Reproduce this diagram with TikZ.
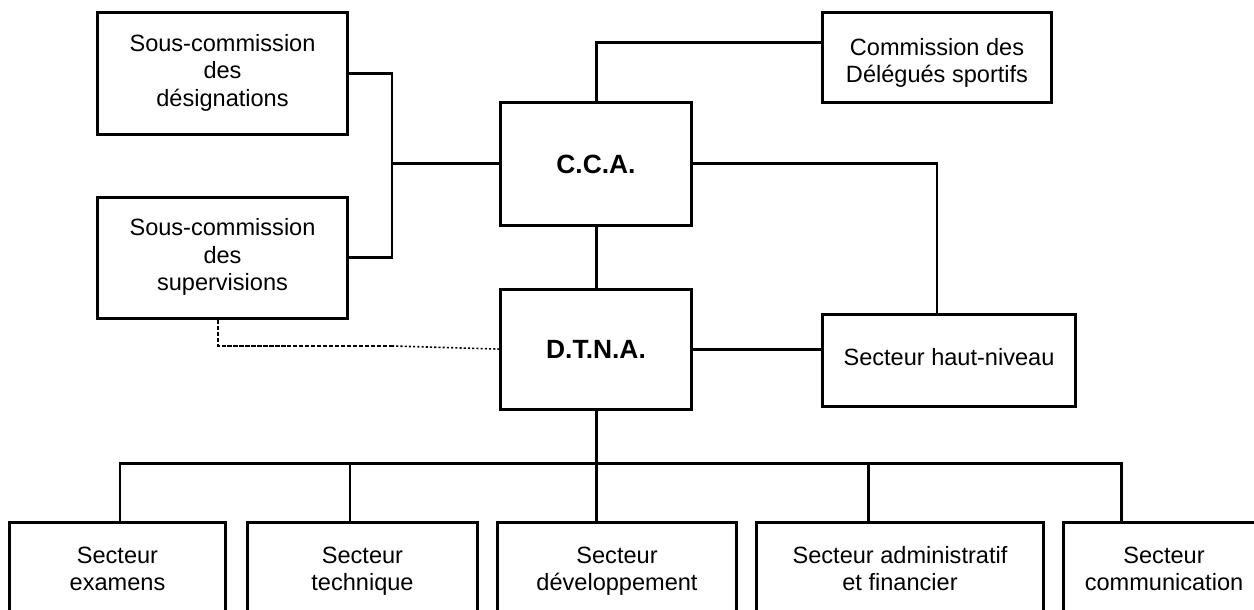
\documentclass[tikz,border=0pt]{standalone}
\usepackage{fontspec}
\setmainfont{Liberation Sans}
\usetikzlibrary{positioning}
\tikzset{
    unit/.style={
           rectangle,
           draw=black, line width=0.85pt,
           inner sep=0pt,
           align=center,
           font=\fontsize{6.7}{7.8}\selectfont},
    head/.style={
           unit,
           font=\fontsize{7.5}{8.5}\selectfont\bfseries},
    link/.style={draw=black, line width=0.85pt},
    dashlink/.style={draw=black, line width=0.45pt, dash pattern=on 1.2pt off 0.5pt},
    dotlink/.style={draw=black, line width=0.45pt, dash pattern=on 0.6pt off 0.6pt},
}

\begin{document}
\begin{tikzpicture}[x=0.01cm,y=-0.01cm]
 \clip (0,0) rectangle (1254,610);

 % commissions
 \node[unit, minimum width=2.49cm, minimum height=1.21cm] (DESIGNATIONS) at (222.5,73.5)
 {\strut Sous-commission\\des\\désignations\strut};

 \node[unit, minimum width=2.49cm, minimum height=1.21cm,
 below=0.60cm of DESIGNATIONS] (SUPERVISIONS)
 {\strut Sous-commission\\des\\supervisions\strut};

 \node[head, minimum width=1.90cm, minimum height=1.22cm] (CCA) at (596,164)
 {C.C.A.};

 \node[unit, minimum width=2.28cm, minimum height=0.89cm, text height=15.6pt] (DELEGUES) at (937,57.5)
 {Commission des\\Délégués sportifs};

 \node[head, minimum width=1.90cm, minimum height=1.20cm,
 below=0.61cm of CCA] (DTNA)
 {D.T.N.A.};

 \node[unit, minimum width=2.52cm, minimum height=0.91cm] (HAUTNIVEAU) at (949,360.5)
 {\strut Secteur haut-niveau};

 % secteurs
 \node[unit, minimum width=2.15cm, minimum height=0.97cm] (EXAMENS) at (117.5,571.5)
 {\strut Secteur\\examens\strut};
 \node[unit, minimum width=2.29cm, minimum height=0.97cm] (TECHNIQUE) at (362.5,571.5)
 {\strut Secteur\\technique\strut};
 \node[unit, minimum width=2.38cm, minimum height=0.97cm] (DEVELOPPEMENT) at (617,571.5)
 {\strut Secteur\\développement\strut};
 \node[unit, minimum width=2.86cm, minimum height=0.97cm] (ADMINISTRATIF) at (900,571.5)
 {\strut Secteur administratif\\et financier\strut};
 \node[unit, minimum width=2.00cm, minimum height=0.97cm] (COMMUNICATION) at (1164,571.5)
 {\strut Secteur\\communication\strut};

 \coordinate (JOIN) at (392,164);
 \coordinate (BREAK) at (392,346);
 \coordinate (BUS) at (597,464);
 \coordinate (EXTOP) at ([xshift=0.025cm]EXAMENS.north);
 \coordinate (TETOP) at ([xshift=-0.125cm]TECHNIQUE.north);
 \coordinate (ADTOP) at ([xshift=-0.31cm]ADMINISTRATIF.north);
 \coordinate (COTOP) at ([xshift=-0.42cm]COMMUNICATION.north);

 \path[link]
 (DESIGNATIONS.east) -| (JOIN) |- (SUPERVISIONS.east)
 (JOIN) -- (CCA.west)
 (CCA.north) |- ([yshift=0.145cm]DELEGUES.west)
 (CCA.east) -| ([xshift=-0.12cm]HAUTNIVEAU.north)
 (CCA.south) -- (DTNA.north)
 (DTNA.east) -- (DTNA.east -| HAUTNIVEAU.west)
 (DTNA.south) -- (DTNA.south |- DEVELOPPEMENT.north)
 (EXTOP) |- (BUS) -| (COTOP)
 (TETOP) -- (TETOP |- BUS)
 (ADTOP) -- (ADTOP |- BUS);

 \path[dashlink] ([xshift=-0.045cm]SUPERVISIONS.south) |- (BREAK);
 \path[dotlink] (BREAK) -- (DTNA.west);

\end{tikzpicture}
\end{document}
